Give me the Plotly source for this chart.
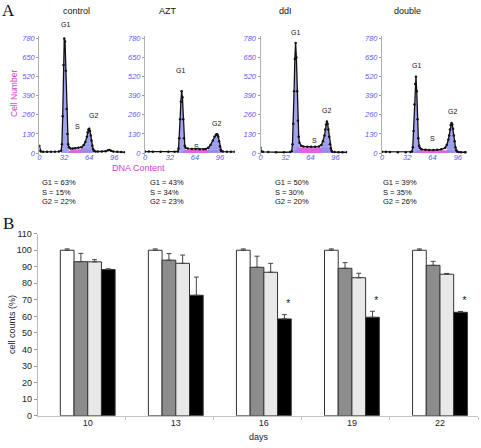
import plotly.graph_objects as go

# ---------------- data: panel A (flow cytometry histograms) ----------------
panel_names = ["control", "AZT", "ddI", "double"]

ctrl_x = [0, 1, 2, 5, 10, 15, 20, 25, 28, 29, 30, 31, 32, 33, 34, 35, 36, 37, 38, 40, 43, 46, 50, 54, 57,
          59, 61, 62, 63, 64, 65, 66, 67, 68, 69, 70, 72, 75, 80, 85, 88, 90, 92, 95, 100, 105, 110]
ctrl_y = [50, 15, 10, 8, 8, 8, 8, 10, 15, 60, 250, 600, 780, 760, 560, 300, 130, 60, 40, 30, 30, 32, 35, 40, 55,
          75, 110, 140, 160, 165, 150, 120, 85, 50, 25, 15, 10, 10, 10, 12, 18, 20, 15, 10, 8, 6, 5]

azt_x = [0, 5, 10, 20, 30, 38, 42, 43, 44, 45, 46, 47, 48, 49, 50, 51, 52, 55, 60, 65, 70, 75, 78, 81,
         84, 87, 89, 91, 92, 93, 94, 95, 96, 97, 98, 100, 105, 110, 115]
azt_y = [10, 10, 8, 8, 8, 8, 10, 30, 100, 230, 350, 420, 380, 230, 100, 50, 35, 30, 28, 27, 25, 25, 28, 35,
         55, 85, 110, 125, 128, 125, 110, 80, 45, 20, 12, 10, 8, 8, 8]

ddi_x = [0, 1, 3, 10, 20, 30, 38, 40, 41, 42, 43, 44, 45, 46, 47, 48, 49, 50, 52, 55, 60, 65, 70, 75, 78,
         80, 82, 83, 84, 85, 86, 87, 88, 89, 90, 91, 92, 95, 100, 105, 111]
ddi_y = [35, 10, 8, 6, 5, 5, 6, 12, 60, 200, 420, 640, 750, 650, 420, 220, 110, 70, 50, 45, 42, 42, 42, 45, 55,
         80, 120, 160, 195, 215, 200, 160, 110, 60, 30, 15, 8, 6, 5, 5, 5]

dbl_x = [0, 5, 10, 20, 30, 36, 38, 39, 40, 41, 42, 43, 44, 45, 46, 47, 48, 50, 55, 60, 65, 70, 75, 80, 82,
         84, 85, 86, 87, 88, 89, 90, 91, 92, 93, 94, 95, 97, 100, 105, 107]
dbl_y = [8, 8, 6, 5, 5, 6, 10, 40, 150, 330, 470, 520, 420, 230, 100, 50, 35, 25, 22, 20, 20, 22, 25, 35, 55,
         90, 120, 160, 190, 204, 195, 165, 120, 80, 40, 18, 10, 6, 5, 5, 5]

# S-phase fit (magenta) per panel
ctrl_sx = [36, 40, 50, 58, 64, 68]
ctrl_sy = [0, 20, 25, 28, 25, 0]
azt_sx = [46, 50, 65, 85, 92, 96]
azt_sy = [0, 20, 22, 22, 20, 0]
ddi_sx = [42, 47, 60, 80, 86, 90]
ddi_sy = [0, 38, 40, 40, 35, 0]
dbl_sx = [40, 46, 60, 82, 88, 93]
dbl_sy = [0, 20, 20, 20, 18, 0]

# G1 / G2 windows (DNA channel) for blue peak fills
g1_windows = [(28, 39), (42, 52), (40, 50), (38, 48)]
g2_windows = [(52, 71), (81, 98), (78, 92), (82, 95)]

g1_pct = [63, 43, 50, 39]
s_pct = [15, 34, 30, 35]
g2_pct = [22, 23, 20, 26]

hist_ticks = [0, 32, 64, 96]
count_ticks = [0, 130, 260, 390, 520, 650, 780]

# ---------------- data: panel B (cell counts) ----------------
days = ["10", "13", "16", "19", "22"]
series_names = ["control", "AZT", "ddI", "double"]
vals = [
    [100, 100, 100, 100, 100],
    [93.1, 94.0, 89.7, 89.1, 90.9],
    [93.0, 92.1, 86.7, 83.4, 85.5],
    [88.3, 72.8, 58.5, 59.5, 62.5],
]
errs = [
    [0.8, 0.8, 0.8, 0.8, 0.8],
    [5.0, 4.0, 6.7, 3.4, 2.4],
    [1.3, 5.0, 5.4, 2.7, 0.5],
    [0.5, 11.0, 2.6, 3.6, 0.5],
]
significant = [False, False, True, True, True]
count_axis_ticks = list(range(0, 111, 10))

# ---------------- layout helpers ----------------
W, H = 481, 448
def px(x):
    return x / W
def py(y):
    return 1 - y / H

FONT = "Liberation Sans, Arial, sans-serif"
BLUE_TXT = "#5a5af0"
MAG = "#d63ad6"
fig = go.Figure()

hist = [(ctrl_x, ctrl_y, ctrl_sx, ctrl_sy), (azt_x, azt_y, azt_sx, azt_sy),
        (ddi_x, ddi_y, ddi_sx, ddi_sy), (dbl_x, dbl_y, dbl_sx, dbl_sy)]
x_domains_px = [(39.3, 125.1), (145, 234.7), (260.5, 347.1), (382, 466.5)]
x_ranges = [[0, 110], [0, 115], [0, 111], [0, 107]]
ydom = [py(155.2), py(35.6)]

for i, (hx, hy, sx, sy) in enumerate(hist):
    n = i + 1
    xa = "x" if n == 1 else f"x{n}"
    ya = "y" if n == 1 else f"y{n}"
    fig.add_trace(go.Scatter(x=sx, y=sy, mode="lines", line=dict(width=0, color=MAG),
                             fill="tozeroy", fillcolor="rgba(222,70,222,0.85)",
                             xaxis=xa, yaxis=ya, showlegend=False, hoverinfo="skip"))
    for k, (lo, hi) in enumerate([g1_windows[i], g2_windows[i]]):
        px_ = [a for a in hx if lo <= a <= hi]
        py_ = [b for a, b in zip(hx, hy) if lo <= a <= hi]
        fp = dict(shape="-", fgcolor="#7b7be0", bgcolor="rgba(150,150,238,0.85)", size=3, solidity=0.3) if k == 1 else None
        fig.add_trace(go.Scatter(x=px_, y=py_, mode="lines", line=dict(width=0),
                                 fill="tozeroy", fillcolor="rgba(140,140,236,0.8)",
                                 fillpattern=fp,
                                 xaxis=xa, yaxis=ya, showlegend=False, hoverinfo="skip"))
    fig.add_trace(go.Scatter(x=hx, y=hy, mode="lines+markers",
                             line=dict(color="#111111", width=1.3),
                             marker=dict(size=2.5, color="#111111"),
                             xaxis=xa, yaxis=ya, showlegend=False, hoverinfo="skip"))
    d0, d1 = x_domains_px[i]
    fig.layout[f"xaxis{'' if n == 1 else n}"] = dict(
        domain=[px(d0), px(d1)], range=x_ranges[i], anchor=ya, automargin=False,
        tickvals=hist_ticks, ticks="", showline=False, showgrid=False, zeroline=False,
        ticklabelstandoff=-4,
        tickfont=dict(family=FONT, size=7.5, color=BLUE_TXT, style="italic"))
    fig.layout[f"yaxis{'' if n == 1 else n}"] = dict(
        domain=ydom, range=[-15, 800], anchor=xa, automargin=False,
        tickvals=count_ticks, ticks="outside", ticklen=2, tickcolor="#999999",
        showline=True, linecolor="#b0b0b0", linewidth=1, showgrid=False, zeroline=False,
        tickfont=dict(family=FONT, size=7.5, color=BLUE_TXT, style="italic"))

ann = []
for name, (x, y) in zip(panel_names, [(76, 11), (168, 11), (285, 11), (407.7, 11)]):
    ann.append(dict(text=name, x=px(x), y=py(y)))
peak_labels = [
    [("G1", 65.7, 24), ("S", 77.7, 126.7), ("G2", 93.3, 116)],
    [("G1", 180.3, 70), ("S", 196, 146), ("G2", 216.7, 123.3)],
    [("G1", 295, 32.3), ("S", 314, 140.7), ("G2", 326.7, 110.7)],
    [("G1", 416, 65), ("S", 432.3, 138.3), ("G2", 452.3, 111.7)],
]
for lst in peak_labels:
    for t, x, y in lst:
        ann.append(dict(text=t, x=px(x), y=py(y), font=dict(family=FONT, size=7, color="#111")))
pct_x = [40, 148, 272.7, 380.7]
for i in range(4):
    for j, (lab, v) in enumerate([("G1", g1_pct[i]), ("S", s_pct[i]), ("G2", g2_pct[i])]):
        ann.append(dict(text=f"{lab} = {v}%", x=px(pct_x[i]), y=py(183 + 9 * j), xanchor="left",
                        font=dict(family=FONT, size=7.5, color="#111")))
ann.append(dict(text="Cell Number", x=px(14), y=py(94), textangle=-90,
                font=dict(family=FONT, size=8.5, color=MAG)))
ann.append(dict(text="DNA Content", x=px(138.5), y=py(167.5),
                font=dict(family=FONT, size=9, color=MAG)))
ann.append(dict(text="A", x=px(8), y=py(10), font=dict(family="Liberation Serif, serif", size=17, color="#111")))
ann.append(dict(text="B", x=px(8), y=py(223), font=dict(family="Liberation Serif, serif", size=17, color="#111")))
ann.append(dict(text="cell counts (%)", x=px(12), y=py(325), textangle=-90,
                font=dict(family=FONT, size=9, color="#222")))
ann.append(dict(text="days", x=px(259), y=py(437), font=dict(family=FONT, size=9, color="#222")))

# ---------------- panel B ----------------
fills = ["#ffffff", "#8c8c8c", "#e8e8e8", "#000000"]
bw = 0.1556
offsets = [-0.243, -0.243 + bw, -0.243 + 2 * bw, -0.243 + 3 * bw]
idx = list(range(len(days)))
for s in range(4):
    fig.add_trace(go.Bar(x=idx, y=vals[s], name=series_names[s], offset=offsets[s], width=bw,
                         marker=dict(color=fills[s], line=dict(color="#333333", width=1)),
                         error_y=dict(type="data", array=errs[s], arrayminus=[0] * len(days),
                                      symmetric=False, color="#444444", thickness=1, width=2.5),
                         xaxis="x5", yaxis="y5", showlegend=False, hoverinfo="skip"))
star_x = [k + offsets[3] + bw * 0.78 for k, sg in zip(idx, significant) if sg]
star_y = [vals[3][k] + errs[3][k] + 6 for k, sg in zip(idx, significant) if sg]
fig.add_trace(go.Scatter(x=star_x, y=star_y, mode="text", text=["*"] * len(star_x),
                         textfont=dict(family=FONT, size=10, color="#111111"),
                         xaxis="x5", yaxis="y5", showlegend=False, hoverinfo="skip"))

center = offsets[0] + 2 * bw
fig.layout.xaxis5 = dict(domain=[px(37.7), px(478)], range=[-0.5, 4.5], anchor="y5", automargin=False,
                         tickvals=[k + center for k in idx], ticktext=days, ticks="",
                         ticklabelstandoff=-2,
                         showline=True, linecolor="#c4c4c4", linewidth=1.2, showgrid=False, zeroline=False,
                         tickfont=dict(family=FONT, size=9, color="#222"),
                         minor=dict(tickvals=[k + 0.5 for k in idx], ticks="outside", ticklen=3,
                                    tickcolor="#c4c4c4"))
fig.layout.yaxis5 = dict(domain=[py(415.7), py(233.7)], range=[0, 110], anchor="x5", automargin=False,
                         tickvals=count_axis_ticks, ticks="outside", ticklen=3, tickcolor="#999",
                         showline=True, linecolor="#b8b8b8", linewidth=1, showgrid=False, zeroline=False,
                         tickfont=dict(family=FONT, size=9, color="#222"))

for a in ann:
    a.setdefault("xref", "paper")
    a.setdefault("yref", "paper")
    a.setdefault("xanchor", "center")
    a.setdefault("yanchor", "middle")
    a.setdefault("showarrow", False)
    a.setdefault("font", dict(family=FONT, size=9, color="#111"))
fig.update_layout(annotations=ann, width=W, height=H, margin=dict(l=0, r=0, t=0, b=0, autoexpand=False),
                  plot_bgcolor="white", paper_bgcolor="white", barmode="overlay", hovermode=False)
fig.write_html("out.html", config={"displayModeBar": False, "staticPlot": True},
               post_script="document.body.style.margin='0px';document.body.style.overflow='hidden';")
